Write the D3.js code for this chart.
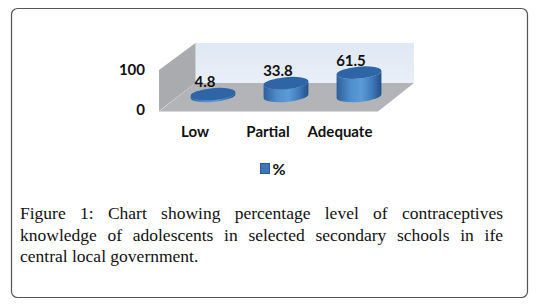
<!DOCTYPE html>
<html><head><meta charset="utf-8">
<script src="https://cdnjs.cloudflare.com/ajax/libs/d3/7.8.5/d3.min.js"></script>
<style>html,body{margin:0;background:#fff}svg{display:block}</style></head>
<body><svg id="c" width="539" height="307"></svg>
<script>
const categories = ["Low", "Partial", "Adequate"];
const values = [4.8, 33.8, 61.5];
const valueTicks = [0, 100];
const seriesName = "%";
const captionLines = [
  "Figure 1: Chart showing percentage level of contraceptives",
  "knowledge of adolescents in selected secondary schools in ife",
  "central local government."
];

const svg = d3.select("#c");
const defs = svg.append("defs");
const side = defs.append("linearGradient").attr("id","side");
[[0,"#2f5f9c"],[.3,"#4f8ccb"],[.55,"#5b9bd8"],[.8,"#3f78b8"],[1,"#234f88"]]
  .forEach(([o,c])=>side.append("stop").attr("offset",o).attr("stop-color",c));
const wall = defs.append("linearGradient").attr("id","wall").attr("x1",0).attr("x2",0).attr("y1",0).attr("y2",1);
[[0,"#dfe8f4"],[1,"#e9eff7"]].forEach(([o,c])=>wall.append("stop").attr("offset",o).attr("stop-color",c));

svg.append("rect").attr("x",11.5).attr("y",8.5).attr("width",516).attr("height",289)
  .attr("rx",6).attr("fill","#fff").attr("stroke","#555").attr("stroke-width",1.2);

// 3D frame
const x = d3.scalePoint().domain(categories).range([213,359]);
const y = d3.scaleLinear().domain([0,100]).range([96,58]);
const poly = (pts,fill)=>svg.append("polygon").attr("points",pts.join(" ")).attr("fill",fill);
poly([[195.5,43],[414,43],[414,83],[195.5,83]],"url(#wall)");
poly([[159,70],[195.5,43],[195.5,83],[159,111]],"#a9abae");
poly([[159,111.5],[195.5,83],[414,83],[378,111.5]],"#b2b4b7");

// cylinders, tilted to follow the perspective of the floor
const rx = 22.5, ry = 6, tilt = -5;
const dx = rx*Math.cos(tilt*Math.PI/180), dy = rx*Math.sin(tilt*Math.PI/180);
const g = svg.append("g");
categories.forEach((c,i)=>{
  const cx = x(c), y0 = y(0), y1 = y(values[i]);
  g.append("path")
    .attr("d",`M${cx-dx},${y1-dy}L${cx-dx},${y0-dy}A${rx},${ry} ${tilt} 0 0 ${cx+dx},${y0+dy}L${cx+dx},${y1+dy}A${rx},${ry} ${tilt} 0 1 ${cx-dx},${y1-dy}Z`)
    .attr("fill","url(#side)");
  g.append("ellipse").attr("cx",cx).attr("cy",y1).attr("rx",rx).attr("ry",ry)
    .attr("transform",`rotate(${tilt} ${cx} ${y1})`)
    .attr("fill","#2d65a6");
  svg.append("text").attr("x",cx-8).attr("y",y1-7).attr("text-anchor","middle")
    .attr("font-family","Lato, 'Open Sans', sans-serif").attr("font-weight",700).attr("font-size",15)
    .attr("fill","#111").text(values[i]);
});

const bold = {"font-family":"Lato, 'Open Sans', sans-serif","font-weight":700,"fill":"#111"};
const lab = (s,xx,yy,sz,anchor)=>{const t=svg.append("text").attr("x",xx).attr("y",yy).attr("font-size",sz).attr("text-anchor",anchor).text(s);
  Object.entries(bold).forEach(([k,v])=>t.attr(k,v));return t;};

// value axis labels
const tickY = d3.scaleLinear().domain([0,100]).range([115,75]);
valueTicks.forEach(v=>lab(String(v),145,tickY(v),15,"end"));

// category labels
const labelX = [195,268,340];
categories.forEach((c,i)=>lab(c,labelX[i],136.5,15,"middle"));

// legend
svg.append("rect").attr("x",260.5).attr("y",163.5).attr("width",9).attr("height",10).attr("fill","#3f76b6").attr("stroke","#2c5a94");
lab(seriesName,272.5,175,16,"start");

// caption, justified
const baselines = [219,241,262];
captionLines.forEach((s,i)=>{
  const t = svg.append("text").attr("x",20).attr("y",baselines[i])
    .attr("font-family","'Liberation Serif', serif").attr("font-size",17.5).attr("fill","#111").text(s);
  if(i<2){
    const w = t.node().getComputedTextLength();
    t.attr("word-spacing",(483-w)/(s.split(" ").length-1));
  }
});
</script></body></html>
